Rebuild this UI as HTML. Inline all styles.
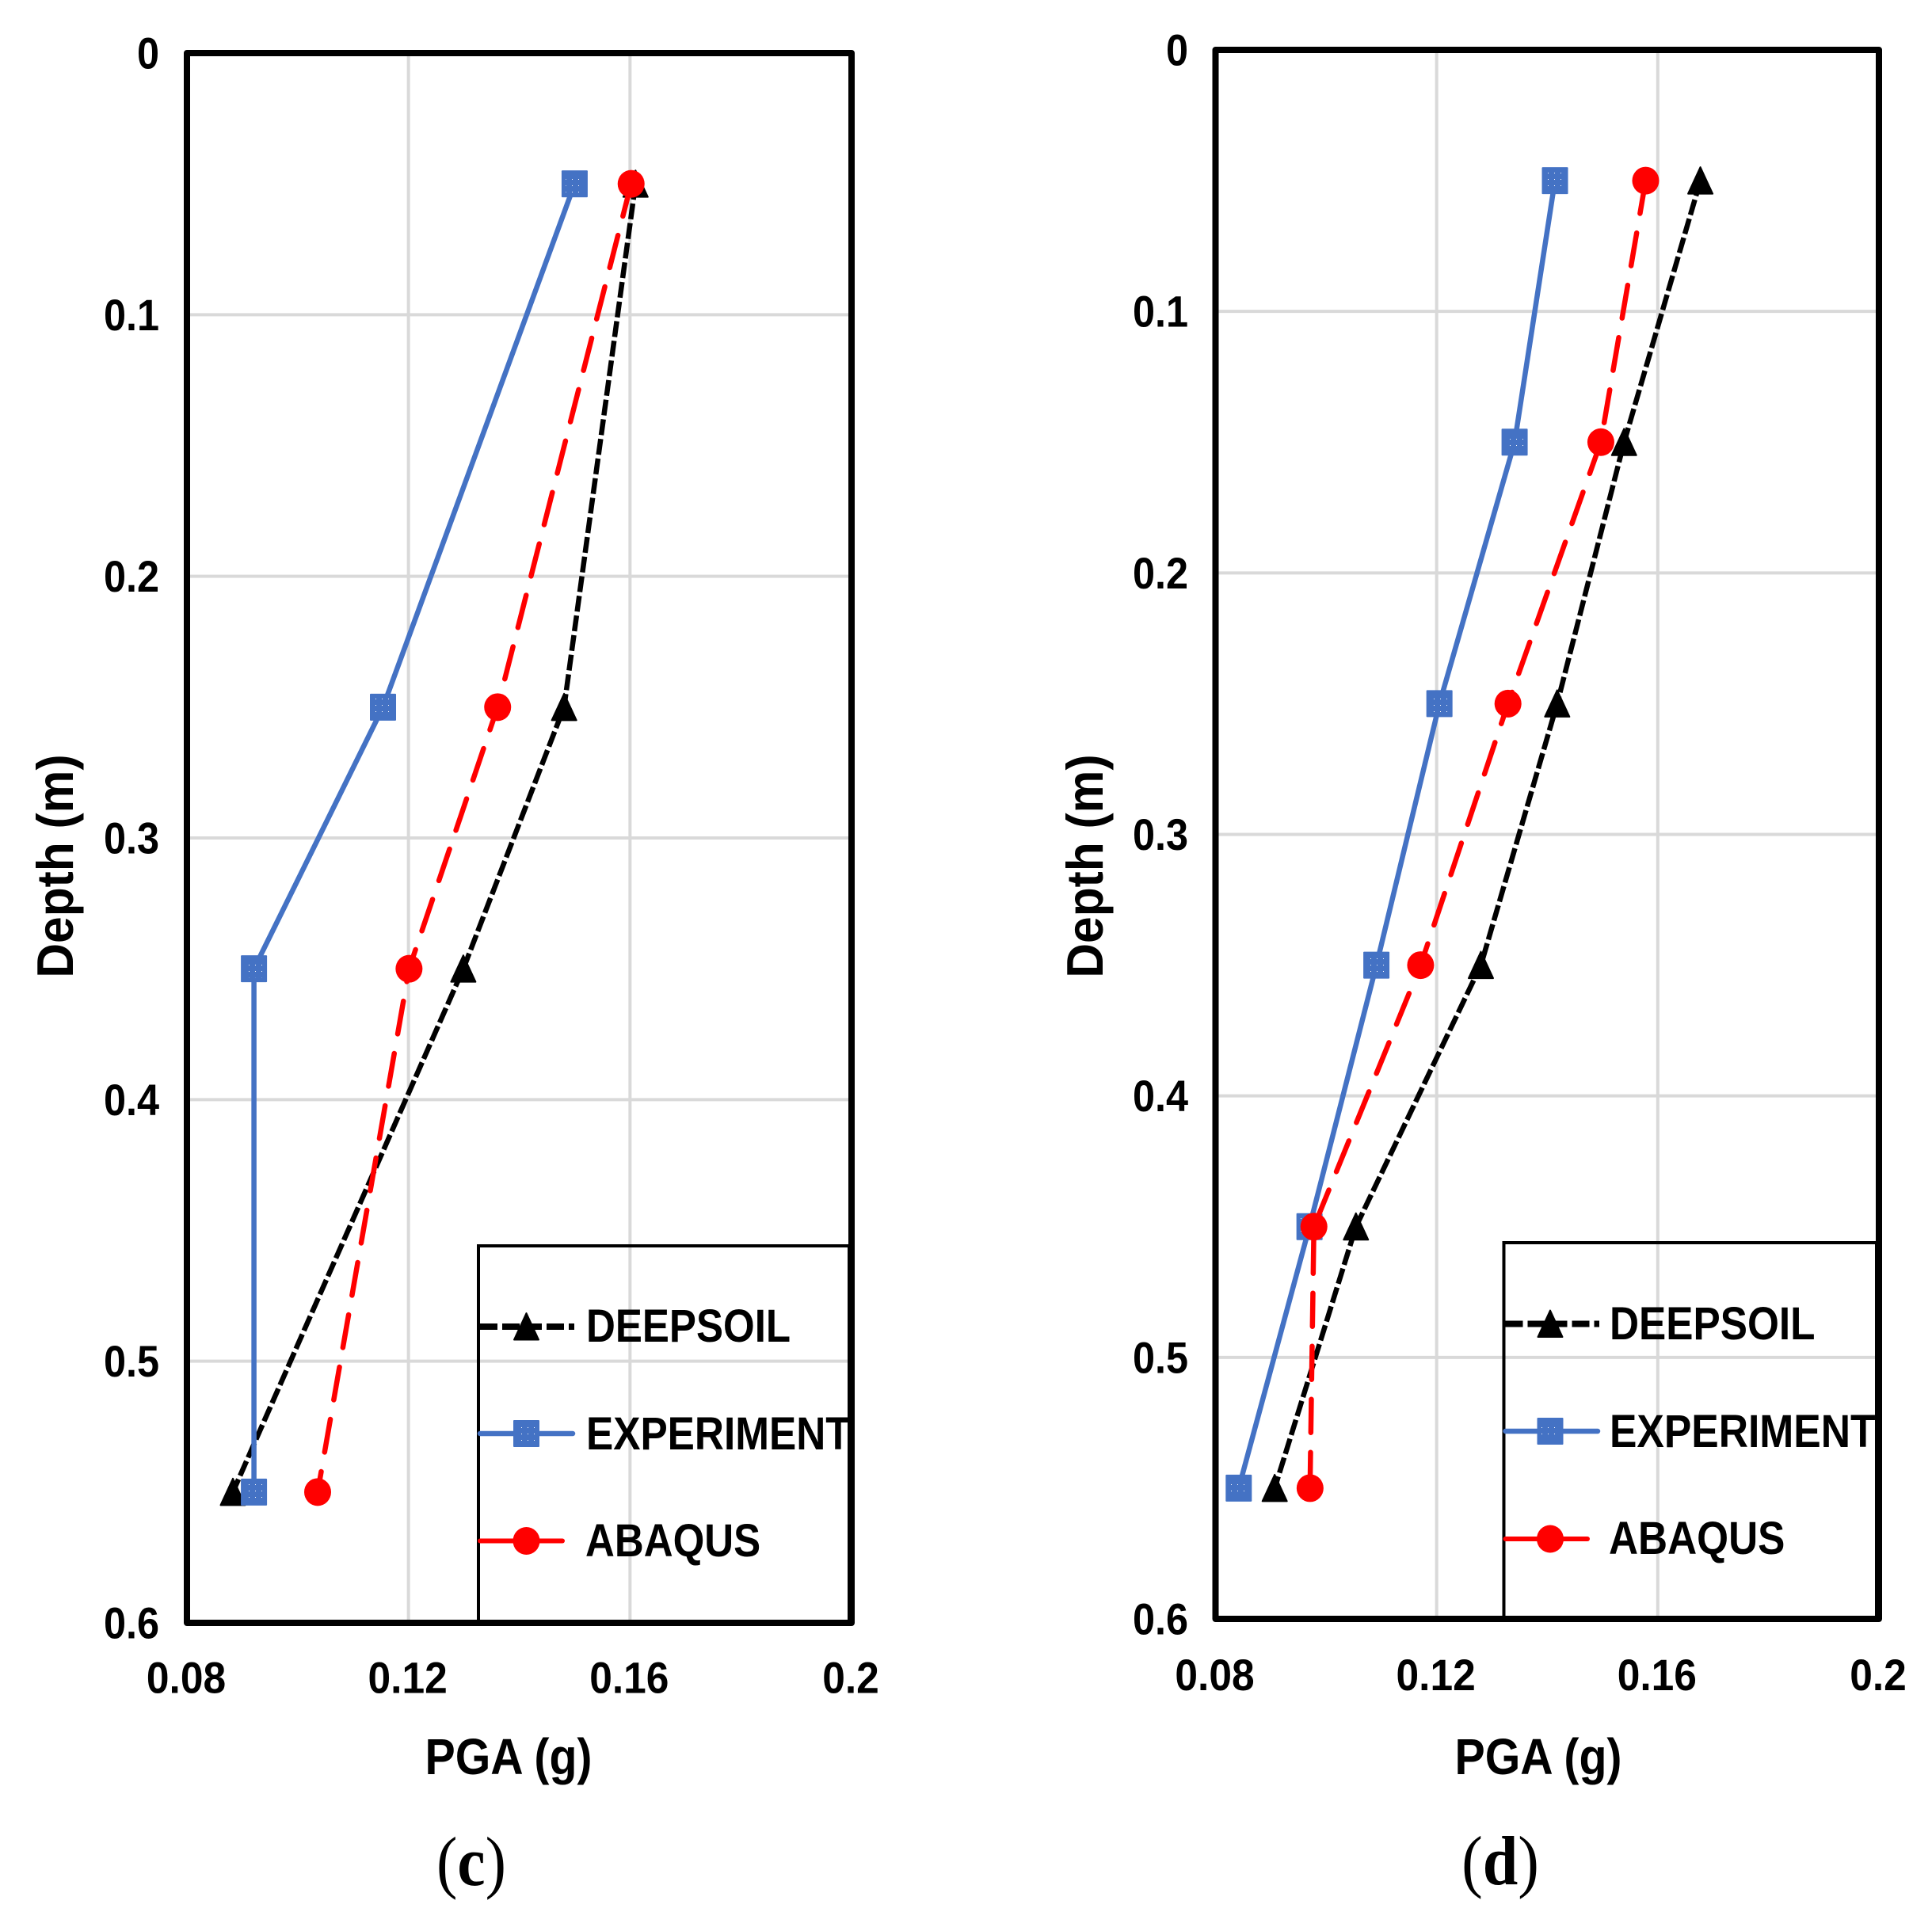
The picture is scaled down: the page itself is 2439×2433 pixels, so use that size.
<!DOCTYPE html>
<html lang="en">
<head>
<meta charset="utf-8">
<title>PGA vs Depth (c) and (d)</title>
<style>
html,body{margin:0;padding:0;background:#fff;}
svg{display:block;}
text{font-family:"Liberation Sans",Arial,sans-serif;font-weight:bold;fill:#000;}
.cap{font-family:"Liberation Serif","Times New Roman",serif;font-size:88px;font-weight:normal;}
.cap tspan{font-weight:bold;}
.title{font-size:64px;text-anchor:middle;}
.ytitle{font-size:60.5px;text-anchor:middle;}
.leg{font-size:58px;}
.frame{fill:none;stroke:#000;stroke-width:8;stroke-linejoin:round;}
.legbox{fill:none;stroke:#000;stroke-width:4;}
</style>
</head>
<body>
<svg id="figure" xmlns="http://www.w3.org/2000/svg" width="2439" height="2433" viewBox="0 0 2439 2433">
<defs>
  <pattern id="square-dots" patternUnits="userSpaceOnUse" width="8" height="8">
    <rect x="2" y="2" width="1" height="1" fill="#ffffff"/>
  </pattern>
</defs>
<rect x="0" y="0" width="2439" height="2433" fill="#fff"/>

<g id="chart-c">
  <g id="c-grid"></g>
  <rect class="frame" x="236" y="67" width="839" height="1982"/>
  <g id="c-ticks"></g>
  <g id="c-series"></g>
  <text class="title" transform="translate(642,2240) scale(.895,1)">PGA (g)</text>
  <text class="ytitle" transform="translate(92,1093.5) rotate(-90) scale(1,1.08)">Depth (m)</text>
  <path class="legbox" d="M604 2049V1573H1072V2049"/>
  <g id="c-legend">
    <text class="leg" transform="translate(740,1694) scale(.88,1)">DEEPSOIL</text>
    <text class="leg" transform="translate(740,1830) scale(.885,1)">EXPERIMENT</text>
    <text class="leg" transform="translate(739,1965) scale(.88,1)">ABAQUS</text>
  </g>
  <text class="cap" transform="translate(595,2380) scale(.9,1)" text-anchor="middle">(<tspan>c</tspan>)</text>
</g>

<g id="chart-d">
  <g id="d-grid"></g>
  <rect class="frame" x="1534.5" y="63" width="837.5" height="1981"/>
  <g id="d-ticks"></g>
  <g id="d-series"></g>
  <text class="title" transform="translate(1942,2240) scale(.895,1)">PGA (g)</text>
  <text class="ytitle" transform="translate(1392,1093.5) rotate(-90) scale(1,1.08)">Depth (m)</text>
  <path class="legbox" d="M1898.5 2044V1569H2369V2044"/>
  <g id="d-legend">
    <text class="leg" transform="translate(2032,1691) scale(.885,1)">DEEPSOIL</text>
    <text class="leg" transform="translate(2032,1827) scale(.89,1)">EXPERIMENT</text>
    <text class="leg" transform="translate(2031,1962) scale(.885,1)">ABAQUS</text>
  </g>
  <text class="cap" transform="translate(1894,2379) scale(.91,1)" text-anchor="middle">(<tspan>d</tspan>)</text>
</g>
</svg>

<script>
// ---- data ----
const xTickLabels = ['0.08', '0.12', '0.16', '0.2'];
const yTickLabels = ['0', '0.1', '0.2', '0.3', '0.4', '0.5', '0.6'];

const depthsC = [0.05, 0.25, 0.35, 0.55];
const deepsoilC = [0.161, 0.1481, 0.1299, 0.0883];
const experimentC = [0.15, 0.1154, 0.0921, 0.0921];
const abaqusC = [0.1602, 0.1361, 0.1201, 0.1036];

const depthsD = [0.05, 0.15, 0.25, 0.35, 0.45, 0.55];
const deepsoilD = [0.1677, 0.1539, 0.1418, 0.128, 0.1054, 0.0907];
const experimentD = [0.1414, 0.1341, 0.1205, 0.1091, 0.097, 0.0842];
const abaqusD = [0.1578, 0.1497, 0.1329, 0.1171, 0.0978, 0.0971];

// ---- drawing helpers ----
const NS = 'http://www.w3.org/2000/svg';
const BLACK = '#000000', BLUE = '#4472C4', RED = '#FF0000';
const XMIN = 0.08, XMAX = 0.2, YMIN = 0, YMAX = 0.6;

function make(tag, attrs, parent) {
  const el = document.createElementNS(NS, tag);
  for (const k in attrs) el.setAttribute(k, attrs[k]);
  parent.appendChild(el);
  return el;
}
function xScale(p, v) { return p.left + (v - XMIN) / (XMAX - XMIN) * (p.right - p.left); }
function yScale(p, v) { return p.top + (v - YMIN) / (YMAX - YMIN) * (p.bottom - p.top); }

function drawMarker(kind, cx, cy, parent) {
  let el;
  if (kind === 'triangle') {
    el = make('path', { d: 'M' + cx + ' ' + (cy - 17) + 'L' + (cx + 15.5) + ' ' + (cy + 16.5) + 'H' + (cx - 15.5) + 'Z', fill: BLACK, stroke: BLACK, 'stroke-width': 2, 'stroke-linejoin': 'round' }, parent);
  } else if (kind === 'square') {
    el = make('rect', { x: cx - 16.5, y: cy - 17, width: 33, height: 34, rx: 1, fill: BLUE }, parent);
    const dots = make('rect', { x: cx - 11, y: cy - 11, width: 22, height: 22, fill: 'url(#square-dots)' }, parent);
    
    
  } else {
    el = make('ellipse', { cx: cx, cy: cy, rx: 17, ry: 17.5, fill: RED }, parent);
  }
  
  
}

function drawSeries(p, depths, values, style, kind, name, parent) {
  const pts = values.map(function (v, i) { return xScale(p, v).toFixed(1) + ',' + yScale(p, depths[i]).toFixed(1); });
  const line = make('polyline', { points: pts.join(' '), fill: 'none', stroke: style.color, 'stroke-width': style.width, 'stroke-dasharray': style.dash, 'stroke-linecap': style.cap, 'stroke-linejoin': 'round' }, parent);
  
  
  values.forEach(function (v, i) { drawMarker(kind, xScale(p, v), yScale(p, depths[i]), parent); });
}

function drawGrid(p, parent) {
  xTickLabels.slice(1, -1).forEach(function (t) {
    const x = xScale(p, parseFloat(t));
    const g = make('line', { x1: x, x2: x, y1: p.top, y2: p.bottom, stroke: '#D9D9D9', 'stroke-width': 4 }, parent);
    
    
  });
  yTickLabels.slice(1, -1).forEach(function (t) {
    const y = yScale(p, parseFloat(t));
    const g = make('line', { x1: p.left, x2: p.right, y1: y, y2: y, stroke: '#D9D9D9', 'stroke-width': 4 }, parent);
    
    
  });
}

function drawTicks(p, parent) {
  xTickLabels.forEach(function (t) {
    const lab = make('text', { transform: 'translate(' + (xScale(p, parseFloat(t)) - 1) + ',' + p.xBase + ') scale(.92,1)', 'text-anchor': 'middle', 'font-size': 56 }, parent);
    lab.textContent = t;
    
    
  });
  yTickLabels.forEach(function (t) {
    const lab = make('text', { transform: 'translate(' + p.yRight + ',' + (yScale(p, parseFloat(t)) + 19.5) + ') scale(.9,1)', 'text-anchor': 'end', 'font-size': 56 }, parent);
    lab.textContent = t;
    
    
  });
}

function legendRow(p, y, x2, style, kind, name, parent) {
  const l = make('line', { x1: p.legX, x2: x2, y1: y, y2: y, stroke: style.color, 'stroke-width': style.legendWidth, 'stroke-dasharray': style.legendDash, 'stroke-linecap': style.legendCap }, parent);
  
  
  drawMarker(kind, p.legMarker, y, parent);
}

// ---- layout ----
const panelC = { left: 236, right: 1075, top: 67, bottom: 2049, xBase: 2137.5, yRight: 201, legX: 606, legMarker: 664.5 };
const panelD = { left: 1534.5, right: 2372, top: 63, bottom: 2044, xBase: 2134, yRight: 1500, legX: 1900.5, legMarker: 1957 };

const blackStyle = { color: BLACK, width: 6.5, dash: '20 5', cap: 'butt', legendWidth: 8, legendDash: '22 6', legendCap: 'butt' };
const blueStyle = { color: BLUE, width: 6.5, dash: 'none', cap: 'round', legendWidth: 6.5, legendDash: 'none', legendCap: 'round' };
const redStyle = { color: RED, width: 6.5, dash: '42 25', cap: 'round', legendWidth: 6, legendDash: 'none', legendCap: 'round' };

// ---- chart c ----
drawGrid(panelC, document.getElementById('c-grid'));
drawTicks(panelC, document.getElementById('c-ticks'));
const seriesC = document.getElementById('c-series');
drawSeries(panelC, depthsC, deepsoilC, blackStyle, 'triangle', 'deepsoil', seriesC);
drawSeries(panelC, depthsC, experimentC, blueStyle, 'square', 'experiment', seriesC);
drawSeries(panelC, depthsC, abaqusC, redStyle, 'circle', 'abaqus', seriesC);
const legendC = document.getElementById('c-legend');
legendRow(panelC, 1675, 725, blackStyle, 'triangle', 'deepsoil', legendC);
legendRow(panelC, 1810, 723, blueStyle, 'square', 'experiment', legendC);
legendRow(panelC, 1945.5, 710, redStyle, 'circle', 'abaqus', legendC);

// ---- chart d ----
drawGrid(panelD, document.getElementById('d-grid'));
drawTicks(panelD, document.getElementById('d-ticks'));
const seriesD = document.getElementById('d-series');
drawSeries(panelD, depthsD, deepsoilD, blackStyle, 'triangle', 'deepsoil', seriesD);
drawSeries(panelD, depthsD, experimentD, blueStyle, 'square', 'experiment', seriesD);
drawSeries(panelD, depthsD, abaqusD, redStyle, 'circle', 'abaqus', seriesD);
const legendD = document.getElementById('d-legend');
legendRow(panelD, 1671.5, 2019, blackStyle, 'triangle', 'deepsoil', legendD);
legendRow(panelD, 1807, 2017, blueStyle, 'square', 'experiment', legendD);
legendRow(panelD, 1943, 2004, redStyle, 'circle', 'abaqus', legendD);
</script>
</body>
</html>
